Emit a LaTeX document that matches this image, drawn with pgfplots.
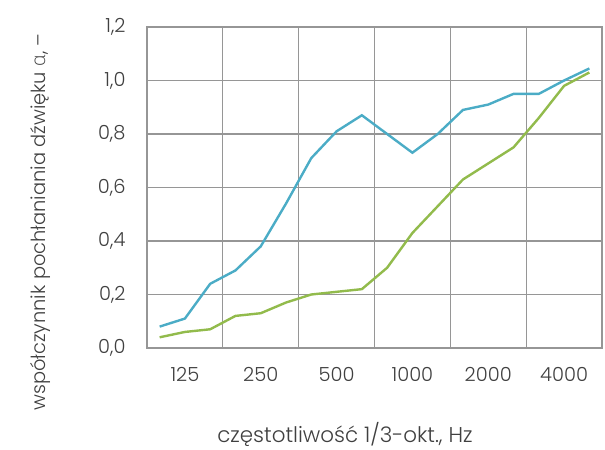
\documentclass[border=0pt]{standalone}
\usepackage{fontspec}
\setmainfont{Poppins}[UprightFont={* Light}]
\newfontfamily\greekfont{Open Sans Light}
\usepackage{pgfplots}
\pgfplotsset{compat=1.18}
\definecolor{cblue}{RGB}{75,172,198}
\definecolor{cgreen}{RGB}{146,187,76}
\definecolor{cgrid}{RGB}{150,150,150}
\definecolor{ctext}{RGB}{64,64,64}
\begin{document}
\begin{tikzpicture}
\begin{axis}[
  scale only axis,
  width=455bp, height=321bp,
  xmin=-0.5, xmax=17.5,
  ymin=0, ymax=1.2,
  xtick={2.5,5.5,8.5,11.5,14.5},
  xticklabels={},
  extra x ticks={1,4,7,10,13,16},
  extra x tick labels={125,250,500,1000,2000,4000},
  extra x tick style={grid=none},
  ytick={0,0.2,0.4,0.6,0.8,1.0,1.2},
  xmajorgrids, ymajorgrids,
  grid style={cgrid, line width=1.1bp},
  axis line style={cgrid, line width=1.3bp},
  major tick length=0pt,
  tick style={draw=none},
  /pgf/number format/assume math mode=true,
  yticklabel={\pgfmathprintnumber[fixed,fixed zerofill,precision=1,use comma]{\tick}},
  ticklabel style={font=\fontsize{19.5}{22}\selectfont, text=ctext},
  yticklabel style={xshift=-18bp},
  xticklabel style={yshift=-16bp},
  xlabel={częstotliwość 1/3-okt., Hz},
  xlabel style={font=\fontsize{21.5}{24}\selectfont, text=ctext, at={(axis description cs:0.435,-0.27)}, anchor=center},
  ylabel={współczynnik pochłaniania dźwięku {\greekfont α}, –},
  ylabel style={font=\fontsize{19.5}{22}\selectfont, text=ctext, at={(axis description cs:-0.235,0.392)}, anchor=center, rotate=0},
]
\addplot[cblue, line width=2.4bp] coordinates {
(0,0.08) (1,0.11) (2,0.24) (3,0.29) (4,0.38) (5,0.54) (6,0.71) (7,0.81) (8,0.87)
(9,0.80) (10,0.73) (11,0.80) (12,0.89) (13,0.91) (14,0.95) (15,0.95) (16,1.00) (17,1.045)
};
\addplot[cgreen, line width=2.4bp] coordinates {
(0,0.04) (1,0.06) (2,0.07) (3,0.12) (4,0.13) (5,0.17) (6,0.20) (7,0.21) (8,0.22)
(9,0.30) (10,0.43) (11,0.53) (12,0.63) (13,0.69) (14,0.75) (15,0.86) (16,0.98) (17,1.03)
};
\end{axis}
\pgfresetboundingbox
\path ([shift={(-147bp,-102bp)}]current axis.south west) rectangle ([shift={(3bp,27bp)}]current axis.north east);
\end{tikzpicture}
\end{document}
